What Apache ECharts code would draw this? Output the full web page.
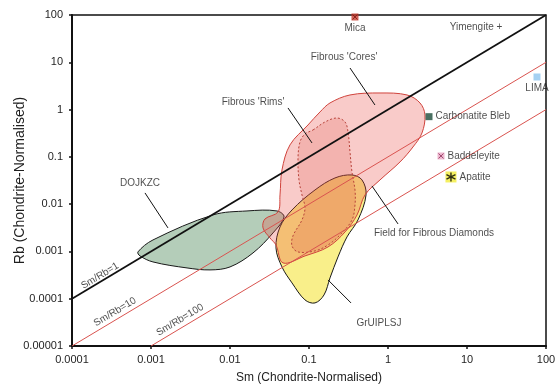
<!DOCTYPE html>
<html><head><meta charset="utf-8">
<script src="https://cdn.jsdelivr.net/npm/echarts@6/dist/echarts.min.js"></script>
<style>html,body{margin:0;padding:0;background:#fff}#c{width:558px;height:385px}</style>
</head><body><div id="c"></div>
<script>
// Axis tick labels (by decade exponent)
const xTickLabels = {'-4':'0.0001','-3':'0.001','-2':'0.01','-1':'0.1','0':'1','1':'10','2':'100'};
const yTickLabels = {'-5':'0.00001','-4':'0.0001','-3':'0.001','-2':'0.01','-1':'0.1','0':'1','1':'10','2':'100'};

// Field outlines, vertices given as [log10(Sm), log10(Rb)]
const dojkzcLog = [[-3.165,-3.01],[-2.975,-2.757],[-2.215,-2.228],[-1.785,-2.144],[-1.405,-2.144],[-1.316,-2.271],[-1.456,-2.609],[-1.709,-3.032],[-2.0,-3.328],[-2.253,-3.391],[-2.544,-3.349],[-2.975,-3.222],[-3.139,-3.095]];
const coresLog = [[-0.734,0.140],[-0.481,0.309],[-0.101,0.351],[0.241,0.309],[0.405,0.140],[0.468,-0.114],[0.430,-0.495],[0.316,-0.791],[0.152,-1.108],[-0.101,-1.488],[-0.291,-1.805],[-0.392,-2.228],[-0.544,-2.588],[-0.759,-2.905],[-1.051,-3.095],[-1.329,-3.243],[-1.418,-2.863],[-1.494,-2.715],[-1.582,-2.503],[-1.557,-2.313],[-1.392,-2.165],[-1.367,-1.805],[-1.342,-1.277],[-1.241,-0.748],[-1.013,-0.326],[-0.861,-0.051]];
const rimsLog = [[-0.949,-0.431],[-0.797,-0.262],[-0.646,-0.178],[-0.544,-0.262],[-0.506,-0.474],[-0.481,-0.896],[-0.456,-1.319],[-0.418,-1.700],[-0.418,-2.017],[-0.456,-2.334],[-0.608,-2.651],[-0.759,-2.863],[-0.924,-2.989],[-1.139,-3.011],[-1.215,-2.884],[-1.203,-2.672],[-1.089,-2.334],[-1.051,-2.080],[-1.089,-1.805],[-1.127,-1.488],[-1.139,-1.023],[-1.114,-0.685],[-1.051,-0.516]];
const gruiplsjLog = [[-0.456,-1.383],[-0.329,-1.488],[-0.278,-1.805],[-0.380,-2.334],[-0.519,-2.693],[-0.633,-3.116],[-0.734,-3.560],[-0.810,-3.920],[-0.924,-4.089],[-1.051,-4.025],[-1.215,-3.666],[-1.342,-3.328],[-1.418,-2.926],[-1.367,-2.482],[-1.215,-2.123],[-0.924,-1.700],[-0.671,-1.446]];

// Reference ratio lines Sm/Rb
const ratioLines = [
  {name:'Sm/Rb=1', pts:[[0.0001,0.0001],[100,100]], color:'#111', width:1.8, label:[-3.646,-3.518]},
  {name:'Sm/Rb=10', pts:[[0.0001,0.00001],[100,10]], color:'#d9534f', width:1, label:[-3.456,-4.279]},
  {name:'Sm/Rb=100', pts:[[0.001,0.00001],[100,1]], color:'#d9534f', width:1, label:[-2.633,-4.448]}
];

// Individual phases [log10 Sm, log10 Rb]
const phaseNames = ['Mica','LIMA','Carbonatite Bleb','Baddeleyite','Apatite'];
const phaseLog = [[-0.418,1.958],[1.886,0.689],[0.519,-0.150],[0.671,-0.981],[0.797,-1.425]];

// Field annotations: text position and pointer segments (log10 units)
const annoTexts = ["Fibrous 'Cores'","Fibrous 'Rims'",'DOJKZC','Field for Fibrous Diamonds','GrUIPLSJ','Yimengite +'];
const annoPos = [[-0.557,1.112],[-1.709,0.161],[-3.139,-1.552],[0.582,-2.609],[-0.114,-4.512],[1.114,1.746]];
const pointers = [
  [[-0.481,0.879],[-0.165,0.097]],
  [[-1.266,0.034],[-0.962,-0.706]],
  [[-3.076,-1.763],[-2.785,-2.503]],
  [[-0.203,-1.615],[0.127,-2.419]],
  [[-0.759,-3.603],[-0.468,-4.089]]
];

const P = a => [Math.pow(10,a[0]), Math.pow(10,a[1])];
const FONT = '"Liberation Sans", Arial, sans-serif';
const TXT = '#1e1e1e';

function poly(pts, fill, stroke, dash, z){
  const real = pts.map(P);
  return {
    type:'custom', coordinateSystem:'cartesian2d', silent:true, z:z,
    data:[real[0]],
    renderItem:function(params, api){
      return {type:'polygon', shape:{points: real.map(p=>api.coord(p)), smooth:0.35},
        style:{fill:fill, stroke:stroke, lineWidth:1, lineDash:dash}};
    }
  };
}

const series = [];
series.push(poly(dojkzcLog,'#b4cdb9','#1a1a1a',null,2));
series.push(poly(gruiplsjLog,'#f9ef8a','#1a1a1a',null,3));
series.push(poly(coresLog,'rgba(232,70,60,0.28)','#d0433c',null,4));
series.push(poly(rimsLog,'rgba(215,70,60,0.18)','#b8433a',[2,2],5));

ratioLines.forEach(l=>{
  series.push({type:'line', data:l.pts, symbol:'none', silent:true, z:6,
    lineStyle:{color:l.color, width:l.width}});
});
series.push({type:'scatter', symbolSize:0, silent:true, z:7,
  data: ratioLines.map(l=>({name:l.name, value:P(l.label)})),
  label:{show:true, position:'inside', rotate:31, formatter:'{b}', fontFamily:FONT, fontSize:10, color:TXT}});

pointers.forEach(seg=>{
  series.push({type:'line', data:seg.map(P), symbol:'none', silent:true, z:6,
    lineStyle:{color:'#111', width:1}});
});
series.push({type:'scatter', symbolSize:0, silent:true, z:8,
  data: annoTexts.map((t,i)=>({name:t, value:P(annoPos[i])})),
  label:{show:true, position:'inside', formatter:'{b}', fontFamily:FONT, fontSize:10, color:TXT}});

// phase markers
const markerStyles = [
  {symbol:'rect', size:7, color:'#c63a2d', label:'bottom'},
  {symbol:'rect', size:7, color:'#8ec5ef', label:'bottom'},
  {symbol:'rect', size:7, color:'#1c4b39', label:'right'},
  {symbol:'rect', size:7, color:'#eaa6c4', label:'right'},
  {symbol:'rect', size:11, color:'#f2ec3a', label:'right'}
];
series.push({type:'scatter', silent:true, z:9,
  data: phaseNames.map((n,i)=>({name:n, value:P(phaseLog[i]), symbol:markerStyles[i].symbol,
    symbolSize:markerStyles[i].size, itemStyle:{color:markerStyles[i].color},
    label:{show:true, position:markerStyles[i].label, distance:3, formatter:'{b}', fontFamily:FONT, fontSize:10, color:TXT}}))
});
// overlay glyphs: x on Mica & Baddeleyite, asterisk on Apatite
series.push({type:'scatter', silent:true, z:10,
  data:[
    {value:P(phaseLog[0]), symbol:'path://M0,0L10,10M10,0L0,10', symbolSize:5, itemStyle:{color:'none', borderColor:'#7a1510', borderWidth:1}},
    {value:P(phaseLog[3]), symbol:'path://M0,0L10,10M10,0L0,10', symbolSize:5, itemStyle:{color:'none', borderColor:'#8a2a55', borderWidth:1}},
    {value:P(phaseLog[4]), symbol:'path://M5,0L5,10M0.7,2.5L9.3,7.5M0.7,7.5L9.3,2.5', symbolSize:9, itemStyle:{color:'none', borderColor:'#000', borderWidth:1.4}}
  ]});

const chart = echarts.init(document.getElementById('c'), null, {renderer:'canvas'});
chart.setOption({
  animation:false,
  backgroundColor:'#fff',
  grid:{left:72, right:12, top:15, bottom:39, containLabel:false, outerBoundsMode:'none',
    show:true, borderColor:'#111', borderWidth:1.5, backgroundColor:'transparent'},
  xAxis:{type:'log', logBase:10, min:0.0001, max:100, interval:1,
    name:'Sm (Chondrite-Normalised)', nameLocation:'middle', nameGap:26,
    nameTextStyle:{fontFamily:FONT, fontSize:12, color:TXT},
    axisLine:{lineStyle:{color:'#111', width:2}},
    axisTick:{show:true, inside:false, length:3, lineStyle:{color:'#111', width:1.5}},
    minorTick:{show:false}, splitLine:{show:false},
    axisLabel:{fontFamily:FONT, fontSize:11, color:TXT, margin:8,
      formatter:v=>xTickLabels[String(Math.round(Math.log10(v)))]}},
  yAxis:{type:'log', logBase:10, min:0.00001, max:100, interval:1,
    name:'Rb (Chondrite-Normalised)', nameLocation:'middle', nameGap:45, nameMoveOverlap:false,
    nameTextStyle:{fontFamily:FONT, fontSize:14, color:TXT},
    axisLine:{lineStyle:{color:'#111', width:2}},
    axisTick:{show:true, inside:false, length:3, lineStyle:{color:'#111', width:1.5}},
    minorTick:{show:false}, splitLine:{show:false},
    axisLabel:{fontFamily:FONT, fontSize:11, color:TXT, margin:9,
      formatter:v=>yTickLabels[String(Math.round(Math.log10(v)))]}},
  series:series
});
</script></body></html>
